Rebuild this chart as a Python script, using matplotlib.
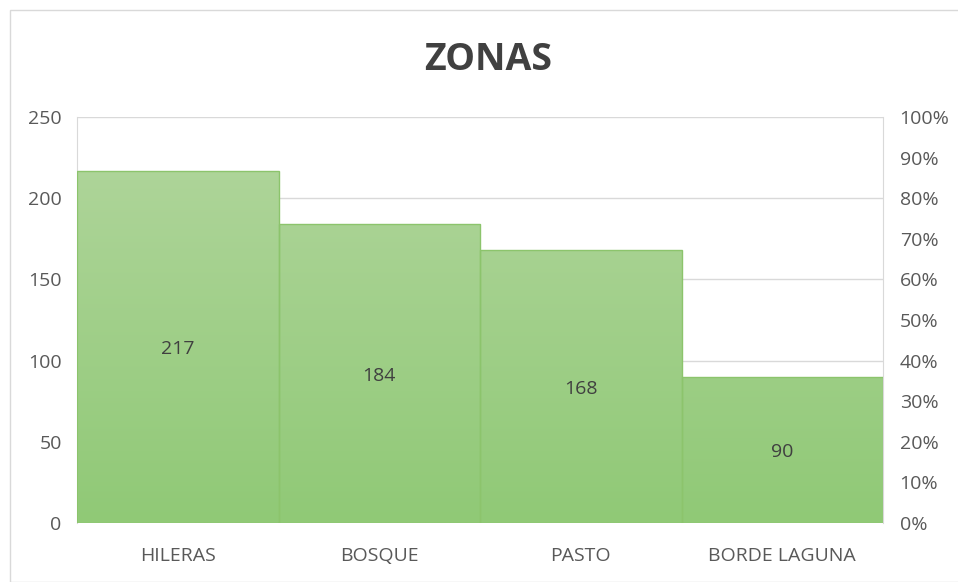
import numpy as np
import matplotlib
matplotlib.use('Agg')
import matplotlib.pyplot as plt
from matplotlib.colors import LinearSegmentedColormap
from matplotlib.patches import Rectangle

# data
zonas   = ['HILERAS', 'BOSQUE', 'PASTO', 'BORDE LAGUNA']
valores = [217, 184, 168, 90]
yticks  = [0, 50, 100, 150, 200, 250]
pticks  = [0, 10, 20, 30, 40, 50, 60, 70, 80, 90, 100]

plt.rcParams['font.family'] = ['Open Sans', 'DejaVu Sans']

fig = plt.figure(figsize=(9.58, 5.82), dpi=100)
ax = fig.add_axes([77/958, 1-523/582, (883-77)/958, (523-117)/582])

x = np.arange(len(zonas))
bars = ax.bar(x, valores, width=1.0, color='none', edgecolor='#8cc46c', linewidth=1.0, zorder=3)

# vertical gradient, lighter on top
cmap = LinearSegmentedColormap.from_list('g', ['#90c976', '#b2d69e'])
grad = np.linspace(0, 1, 256).reshape(-1, 1)
for b in bars:
    x0, y0, w, h = b.get_x(), b.get_y(), b.get_width(), b.get_height()
    im = ax.imshow(grad, cmap=cmap, origin='lower', aspect='auto',
                   extent=[x0, x0 + w, 0, 250], zorder=2)
    im.set_clip_path(b)
    ax.text(x0 + w/2, h/2 - 1.5, str(int(h)), ha='center', va='center',
            fontsize=14, color='#404040', zorder=4)

ax.set_xlim(-0.5, len(zonas) - 0.5)
ax.set_ylim(0, 250)
ax.set_yticks(yticks)
ax.set_xticks(x)
ax.set_xticklabels(zonas)
ax.grid(axis='y', color='#d9d9d9', linewidth=1, zorder=0)
ax.set_axisbelow(True)
for s in ['top', 'bottom']:
    ax.spines[s].set_visible(False)
for s in ['left', 'right']:
    ax.spines[s].set_color('#d9d9d9')
ax.tick_params(axis='both', length=0, labelsize=14, colors='#595959', pad=11)
ax.tick_params(axis='x', pad=17)

ax2 = ax.twinx()
ax2.set_ylim(0, 100)
ax2.set_yticks(pticks)
ax2.set_yticklabels([f'{p}%' for p in pticks])
for s in ax2.spines.values():
    s.set_visible(False)
ax2.tick_params(axis='y', length=0, labelsize=14, colors='#595959', pad=12)

fig.text(488/958, 1-60/582, 'ZONAS', ha='center', va='center',
         fontsize=27, fontweight='bold', color='#404040')

fig.patches.append(Rectangle((10/958, 0), 1, 1-10/582, transform=fig.transFigure,
                             fill=False, edgecolor='#d9d9d9', linewidth=1))

fig.savefig('out.png', dpi=100)
